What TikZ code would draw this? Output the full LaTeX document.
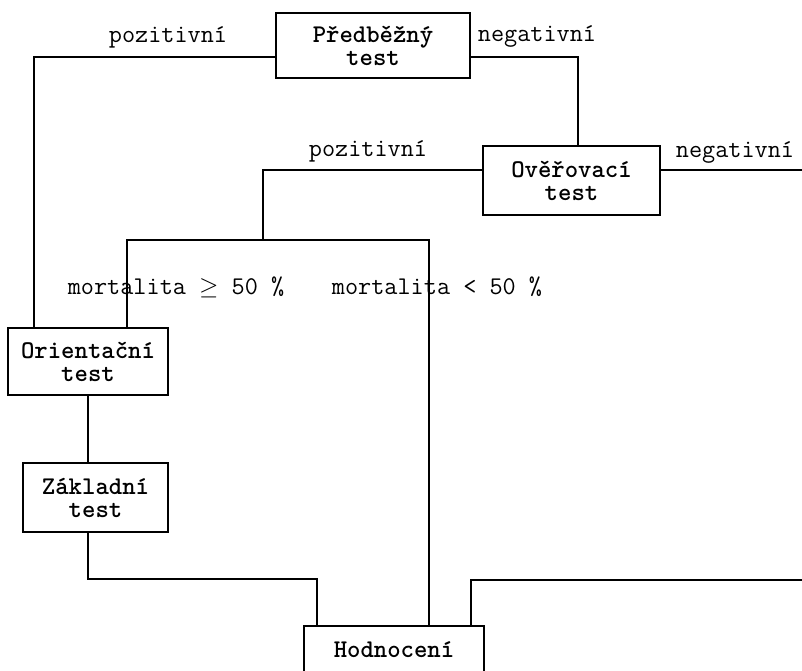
\documentclass[tikz,border=0pt]{standalone}
\usepackage{tikz}

\begin{document}
\begin{tikzpicture}[x=1pt, y=-1pt, line width=1.8pt]
\clip (0,0) rectangle (802,670);
\begin{scope}[every node/.style={rectangle,draw,line width=1.8pt,inner sep=0pt,align=center,font=\fontsize{25.5}{23}\selectfont\ttfamily\bfseries}]
    \node[minimum width=194pt, minimum height=65pt] (predb) at (373,45.5) {Předběžný\\test};
    \node[minimum width=177pt, minimum height=69pt] (overov) at (571.5,180.5) {Ověřovací\\test};
    \node[minimum width=160pt, minimum height=67pt] (orient) at (88,361.5) {Orientační\\test};
    \node[minimum width=145pt, minimum height=69pt] (zaklad) at (95.5,497.5) {Základní\\test};
    \node[minimum width=180pt, minimum height=48pt] (hodn) at (394,650) {Hodnocení};
\end{scope}
\begin{scope}[every node/.style={anchor=base,inner sep=0pt,font=\fontsize{25.5}{23}\selectfont\ttfamily}]
    \node (pos1) at (168,42) {pozitivní};
    \node (neg1) at (537,41) {negativní};
    \node (pos2) at (368,156) {pozitivní};
    \node (neg2) at (735,157) {negativní};
    \node (mgeq) at (176,294) {mortalita $\geq$ 50 \%};
    \node (mlt) at (437,294) {mortalita < 50 \%};
\end{scope}
    \coordinate (split) at (263,240);
    \coordinate (jl) at (317,579);
    \coordinate (negend) at (802,170);
    \coordinate (hodnend) at (802,580);

    \draw ([yshift=-11.5pt]predb.west) -| ([xshift=27pt]orient.north west);
    \draw ([yshift=-11.5pt]predb.east) -| ([xshift=6.5pt]overov.north);
    \draw ([yshift=10.5pt]overov.west) -| (split);
    \draw ([yshift=10.5pt]overov.east) -- (negend);
    \draw ([xshift=39pt]orient.north) |- (split) -| ([xshift=35pt]hodn.north);
    \draw (orient.south) -- (orient.south |- zaklad.north);
    \draw ([xshift=-7.5pt]zaklad.south) |- (jl) -- ([xshift=-77pt]hodn.north);
    \draw ([xshift=77pt]hodn.north) |- (hodnend);
\end{tikzpicture}
\end{document}
